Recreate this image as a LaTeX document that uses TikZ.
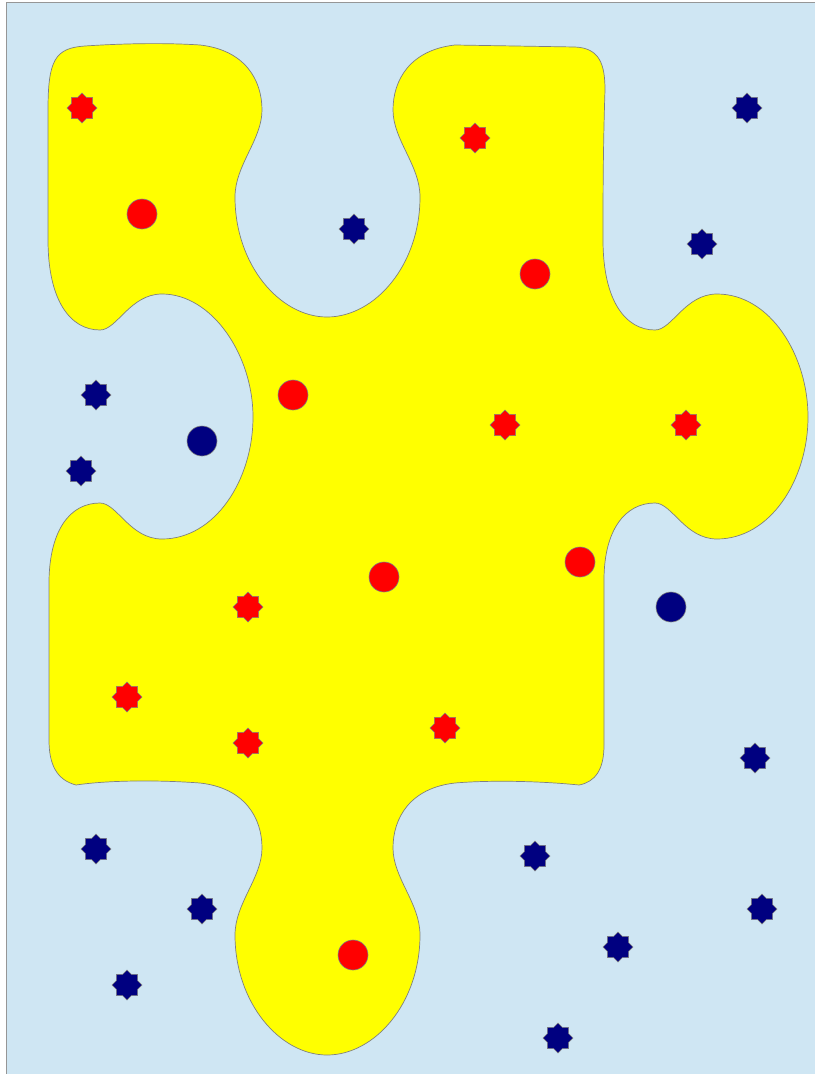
\documentclass[tikz,border=0pt]{standalone}
\usetikzlibrary{shapes.geometric}
\definecolor{bgB}{RGB}{207,230,243}
\definecolor{pieceY}{RGB}{255,255,0}
\definecolor{navyB}{RGB}{0,0,128}
\definecolor{lineG}{RGB}{128,128,128}
\definecolor{frameG}{RGB}{150,150,150}

\begin{document}
\begin{tikzpicture}[x=1pt, y=-1pt, line join=round,
  markbase/.style={inner sep=0pt, minimum size=30pt, draw=lineG, line width=0.6pt},
  redstar/.style={markbase, star, star points=8, star point ratio=1.31, fill=red},
  bluestar/.style={markbase, star, star points=8, star point ratio=1.31, fill=navyB},
  reddot/.style={markbase, circle, fill=red},
  bluedot/.style={markbase, circle, fill=navyB}]
\useasboundingbox (0,0) rectangle (815,1074);
% 背景
\fill[bgB] (6,2) rectangle (815,1074);
\draw[frameG, line width=0.8pt] (6,1074) -- (6,2) -- (815,2);
% 拼图块
\filldraw[fill=pieceY, draw=lineG, line width=0.7pt]
  (48,110) .. controls (48,60) and (55,48) .. (85,46)
  .. controls (130,43) and (170,43) .. (200,45)
  % 上方凹口
  .. controls (245,50) and (262,80) .. (262,110)
  .. controls (262,140) and (235,165) .. (235,197)
  .. controls (235,265) and (280,317) .. (327,317)
  .. controls (375,317) and (420,265) .. (420,197)
  .. controls (420,165) and (393,140) .. (393,110)
  .. controls (393,80) and (410,50) .. (455,45)
  -- (575,47)
  .. controls (600,48) and (605,65) .. (605,90)
  .. controls (603,150) and (603,200) .. (603,240)
  % 右侧凸起
  .. controls (603,300) and (625,330) .. (655,330)
  .. controls (672,330) and (685,294) .. (717,294)
  .. controls (770,294) and (808,355) .. (808,417)
  .. controls (808,480) and (770,539) .. (717,539)
  .. controls (685,539) and (672,503) .. (655,503)
  .. controls (625,503) and (604,530) .. (604,580)
  -- (604,745)
  .. controls (604,770) and (595,782) .. (579,785)
  .. controls (540,781) and (490,780) .. (455,783)
  % 下方凸起
  .. controls (410,788) and (393,818) .. (393,848)
  .. controls (393,878) and (420,903) .. (420,935)
  .. controls (420,1003) and (375,1055) .. (327,1055)
  .. controls (280,1055) and (235,1003) .. (235,935)
  .. controls (235,903) and (262,878) .. (262,848)
  .. controls (262,818) and (245,788) .. (200,783)
  .. controls (160,780) and (110,780) .. (76,785)
  .. controls (57,780) and (49,765) .. (49,740)
  -- (49,580)
  % 左侧凹口
  .. controls (50,530) and (70,503) .. (100,503)
  .. controls (117,503) and (130,539) .. (162,539)
  .. controls (215,539) and (253,480) .. (253,417)
  .. controls (253,355) and (212,294) .. (162,294)
  .. controls (130,294) and (117,330) .. (100,330)
  .. controls (70,330) and (48,300) .. (48,240)
  -- cycle;
% 块内：红色星与圆
\foreach \px/\py [count=\i] in {82/108, 475/138, 505/425, 686/425, 248/607, 127/697, 248/743, 445/728}
  \node[redstar] (rs\i) at (\px,\py) {};
\foreach \px/\py [count=\i] in {142/214, 535/274, 293/395, 384/577, 580/562, 353/955}
  \node[reddot] (rc\i) at (\px,\py) {};
% 块外：蓝色星与圆
\foreach \px/\py [count=\i] in {747/108, 354/229, 702/244, 96/395, 81/471, 96/849, 202/909,
    127/985, 535/856, 618/947, 755/758, 762/909, 558/1038}
  \node[bluestar] (bs\i) at (\px,\py) {};
\foreach \px/\py [count=\i] in {202/441, 671/607}
  \node[bluedot] (bc\i) at (\px,\py) {};
\end{tikzpicture}
\end{document}
